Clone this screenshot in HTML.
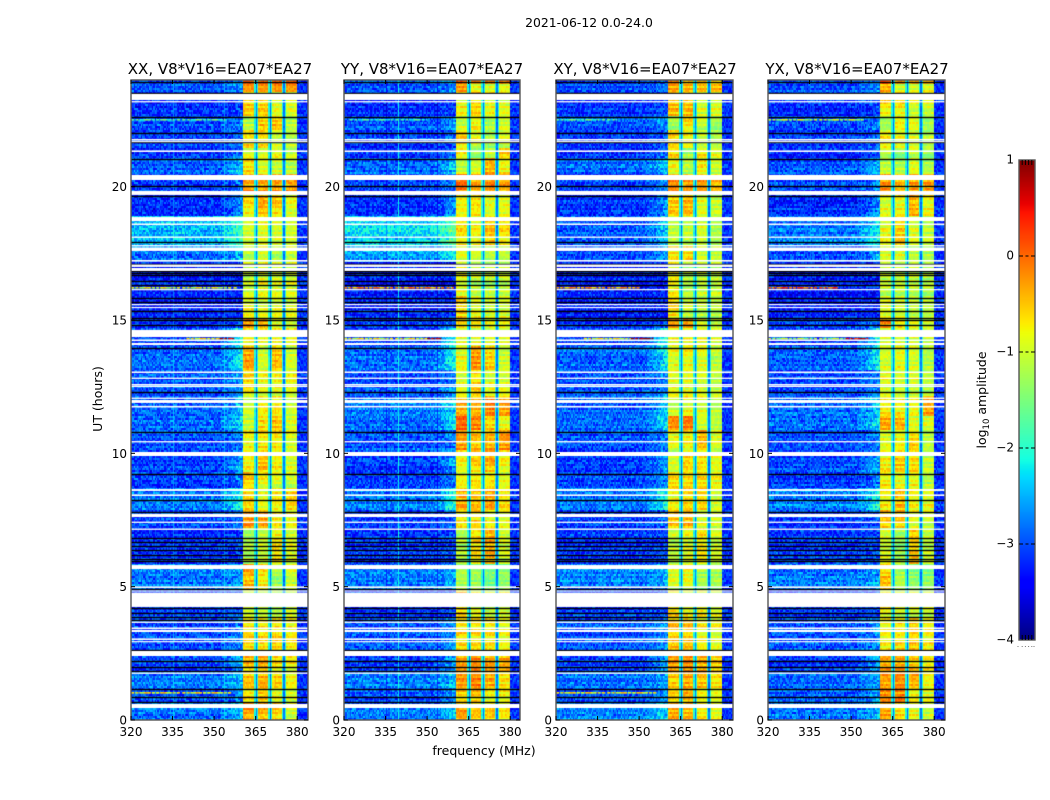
<!DOCTYPE html>
<html lang="en">
<head>
<meta charset="utf-8">
<title>2021-06-12 amplitude waterfall</title>
<style>
html,body{margin:0;padding:0;background:#fff;width:1050px;height:800px;overflow:hidden}
canvas{position:absolute;display:block}
svg{position:absolute;left:0;top:0}
text{font-family:"DejaVu Sans","Liberation Sans",sans-serif;fill:#000}
</style>
</head>
<body>
<canvas id="heat0" style="left:131px;top:80px" width="177" height="640"></canvas>
<canvas id="heat1" style="left:344px;top:80px" width="176" height="640"></canvas>
<canvas id="heat2" style="left:556px;top:80px" width="177" height="640"></canvas>
<canvas id="heat3" style="left:768px;top:80px" width="177" height="640"></canvas>
<canvas id="cbar" style="left:1019px;top:160px" width="16" height="480"></canvas>
<svg id="overlay" width="1050" height="800" viewBox="0 0 1050 800">
  <text x="589" y="27" font-size="12.4" text-anchor="middle">2021-06-12 0.0-24.0</text>
  <text x="220" y="74" font-size="15" text-anchor="middle">XX, V8*V16=EA07*EA27</text>
  <text x="432" y="74" font-size="15" text-anchor="middle">YY, V8*V16=EA07*EA27</text>
  <text x="645" y="74" font-size="15" text-anchor="middle">XY, V8*V16=EA07*EA27</text>
  <text x="857" y="74" font-size="15" text-anchor="middle">YX, V8*V16=EA07*EA27</text>
  <text x="484" y="755" font-size="12.5" text-anchor="middle">frequency (MHz)</text>
  <text transform="translate(102,399) rotate(-90)" font-size="12.5" text-anchor="middle">UT (hours)</text>
  <text transform="translate(986,400) rotate(-90)" font-size="12.5" text-anchor="middle">log<tspan font-size="8.5" dy="3">10</tspan><tspan dy="-3"> amplitude</tspan></text>
</svg>
<script>
// Axis ticks
const freqTicks = [320, 335, 350, 365, 380];
const hourTicks = [0, 5, 10, 15, 20];
const colorTicks = [1, 0, -1, -2, -3, -4];

// Layout of the four polarisation panels (x pixel origin only)
const panelLefts = [131, 344, 556, 768];

// Time segments, top hour of each (descending); each runs down to the next
const segmentTopHours = [24,23.81,23.48,22.61,22.05,21.38,21,20.44,19.65,18.86,17.74,17.1,15.83,15.04,14.63,13.95,13.05,12.08,11.33,10.8,10.05,9.23,8.63,7.8,7.16,5.81,4.8,3.75,2.59,1.76,1.13,0.6];

// log10 amplitude of the 320-360 MHz region per segment
const lowLevelsXX = [-3,-3,-3.2,-3,-3.15,-3.2,-2.9,-3.1,-3.2,-2.5,-2.8,-3.3,-3.25,-3.15,-3.1,-2.9,-3,-2.9,-2.9,-3,-3.1,-3.1,-2.8,-3.1,-3.15,-2.8,-3.15,-3,-3.1,-2.8,-3,-2.8];
const lowLevelsYY = [-3,-3,-3.2,-3,-3.1,-3.2,-2.9,-3.1,-3.2,-2.3,-2.6,-3.3,-3.25,-3.15,-3.1,-2.9,-3,-2.85,-2.85,-3,-3.1,-3.1,-2.8,-3.1,-3.15,-2.8,-3.15,-3,-3.1,-2.8,-3,-2.8];
const lowLevelsXY = [-3,-3,-3.2,-3,-3.15,-3.2,-2.9,-3.1,-3.2,-2.95,-3.1,-3.3,-3.25,-3.15,-3.1,-2.9,-3,-2.9,-2.9,-3,-3.1,-3.1,-2.8,-3.1,-3.15,-2.8,-3.15,-3,-3.1,-2.8,-3,-2.8];
const lowLevelsYX = [-3,-3,-3.2,-3.05,-3.15,-3.2,-3,-3.1,-3.2,-2.8,-3,-3.3,-3.25,-3.15,-3.1,-2.95,-3.05,-2.9,-2.9,-3,-3.1,-3.1,-2.8,-3.1,-3.15,-2.8,-3.15,-3,-3.1,-2.9,-3,-2.8];

// log10 amplitude of the four sub-bands (360-365, 365-370, 370-375, 375-380 MHz) per segment
const subLevelsXX = [[.1,.1,.1,.1],[-.3,-.3,-.3,-.3],[-.6,-.6,-1,-1],[-1.1,-.5,-.5,-1.1],[-.7,-.7,-1.1,-1.2],[-1,-1,-.9,-1.1],[-.6,-.9,-1,-1.1],[-.3,-.3,-.3,-.3],[-.7,-.4,-.6,-.9],[-1,-.9,-1,-1],[-1.1,-.9,-1.2,-1],[-1.1,-.9,-1,-1],[-.8,-.9,-.9,-.9],[-.2,-.3,-.9,-1],[-.9,-.9,-.9,-.9],[-.3,-1,-.5,-1],[-.7,-.9,-.9,-.9],[-1,-.7,-.7,-1],[-1.1,-.7,-.6,-1],[-.8,-.7,-.7,-.9],[-.8,-.5,-.8,-1],[-.6,-.8,-1,-1.1],[-.6,-.9,-.8,-.6],[-.3,-.4,-.8,-.9],[-1.2,-1,-.7,-.9],[-.4,-.7,-1.3,-1],[-1.1,-1.2,-1.3,-1.1],[-.6,-.6,-.6,-.7],[-.5,-.4,-.7,-.8],[-.5,-.4,-.6,-.8],[-.7,-.5,-.9,-1],[-.3,-.4,-.6,-1]];
const subLevelsYY = [[-.2,-.4,-.4,-.4],[-.3,-.9,-1,-.9],[-.8,-.6,-.8,-.9],[-1.1,-.8,-1.2,-1],[-.6,-.9,-1.2,-1],[-.8,-1.4,-1.1,-.6],[-1.1,-1,-.4,-.8],[-.1,-.4,-.2,-.4],[-.8,-.7,-.9,-.9],[-.7,-.8,-.5,-.7],[-.9,-1,-1.1,-1.1],[-.9,-1.1,-1.1,-1.1],[-.6,-.9,-1,-1],[-.7,-.8,-.9,-.9],[-.9,-.9,-.9,-.9],[-.9,-.3,-.6,-1.1],[-.9,-.6,-.9,-.9],[-.5,-.5,-.2,-.4],[.1,-.1,-.5,-.8],[-.3,-.5,-.4,-.3],[-.8,-.6,-.4,-.8],[-.8,-.7,-.7,-.9],[-.4,-.5,-.3,-.7],[-.7,-.6,-.8,-.9],[-1.2,-.7,-.4,-1],[-1.2,-1.3,-1.5,-1.4],[-.5,-.8,-1,-.9],[-.7,-.7,-.7,-.9],[-.3,-.2,-.3,-.4],[-.3,-.2,-.4,-.7],[-.6,-.5,-.8,-.8],[-.3,-.5,-.5,-.7]];
const subLevelsXY = [[.1,-.3,-.3,-.4],[-.3,-.4,-.4,-.4],[-.5,-.5,-1,-1],[-1.3,-.7,-1.1,-1.3],[-.6,-.8,-1.1,-1.2],[-.6,-1.3,-.8,-.9],[-.9,-1.2,-.8,-1.1],[-.2,-.3,-.3,-.5],[-.6,-.5,-1,-1.1],[-1.1,-1.1,-1,-1.2],[-.8,-.7,-1.1,-1.2],[-.8,-1.2,-1.1,-1.1],[-.6,-1,-1.1,-1.1],[-.3,-.3,-.9,-1.1],[-.9,-.9,-.9,-1],[-.9,-.8,-.9,-1.1],[-.9,-.9,-1,-1.1],[-1,-.8,-.9,-1.1],[-.2,-.1,-1,-1.1],[-.9,-.8,-.5,-1],[-1,-.6,-.7,-.9],[-.7,-.7,-.7,-.9],[-.8,-.6,-.6,-1],[-.5,-.4,-1,-1],[-1.1,-.9,-.7,-1],[-1,-.9,-1.3,-1.3],[-.7,-.9,-.8,-1],[-.5,-.5,-.8,-.9],[-.3,-.2,-.4,-.6],[-.5,-.3,-.4,-.6],[-.6,-.4,-.8,-.9],[-.4,-.5,-.8,-.9]];
const subLevelsYX = [[.1,-.3,-.4,-.4],[-.4,-1,-1,-.9],[-.7,-.7,-1,-1],[-1.3,-.8,-.9,-1.3],[-.8,-.9,-1,-1.2],[-1.1,-1.4,-1.1,-1.3],[-1.1,-1.2,-.9,-1.2],[-.3,-.5,-.4,-.4],[-.9,-.8,-.4,-.8],[-.9,-.6,-1,-1.1],[-.9,-.9,-1.1,-1.2],[-1.1,-1.1,-1.1,-1.2],[-.9,-1,-1.1,-1.1],[-.3,-.8,-1,-1.1],[-.9,-.9,-.9,-1],[-1,-.9,-1,-1.2],[-.9,-1,-1,-1.1],[-.8,-.8,-.9,-.4],[-.4,-.5,-1,-1],[-.9,-.8,-.6,-1.1],[-.8,-.6,-.7,-1.1],[-.7,-.8,-.8,-1.1],[-.8,-.5,-.8,-.9],[-.5,-.5,-.9,-1],[-1,-1.3,-.6,-1.1],[-.5,-1.2,-1.4,-1.4],[-.8,-1,-1,-1],[-.8,-.7,-.6,-.8],[-.3,-.3,-.5,-.7],[-.3,-.2,-.4,-.8],[-.3,-.2,-.9,-1],[-.3,-.6,-.8,-1]];

// Brightening towards the band edge per segment, and its spectral profile (320..359 MHz)
const edgeGlow = [.3,.3,.1,.3,.2,.3,.5,.3,.5,.6,.4,0,0,.2,1,.7,.3,.5,.6,.2,.5,.3,.7,.2,.1,.2,.1,.3,.5,.3,.3,.4];
const edgeProfile = [0,0,0,0,0,0,0,0,0,0,0,0,0,0,0,0,0,0,0,0,0,0,0,0,0,0,0,0,0,0,0,0,.1,.2,.3,.4,.55,.7,.85,1];

// Fixed spectral features
const bandStartMHz = 360.4;
const bandEndMHz = 380;
const subBandEdges = [365.1, 370.2, 375.2];
const outOfBandLevel = -3.15;
const gapCoreLevel = -2.8;
const gapEdgeLevel = -2.05;
const spurFreqsYY = [339.7];
const spurLevel = -2.2;

// Flagged (blank) time ranges [startHour, endHour]
const whiteBands = [[23.48,23.25],[23.21,23.16],[21.79,21.73],[21.71,21.68],[21.36,21.3],[20.44,20.25],[19.84,19.69],[18.86,18.71],[18.62,18.56],[18.13,18.08],[17.81,17.76],[17.72,17.59],[17.25,17.19],[17.08,16.99],[16.95,16.84],[16.16,16.13],[15.6,15.56],[15.49,15.45],[14.63,14.36],[14.27,14.21],[14.14,14.06],[13.07,13.01],[12.84,12.79],[12.6,12.54],[12.53,12.49],[12.09,12.04],[12,11.89],[11.78,11.72],[10.46,10.41],[10.05,9.9],[8.66,8.59],[8.46,8.4],[7.73,7.61],[7.44,7.39],[7.18,7.13],[5.81,5.66],[5.01,4.95],[4.86,4.82],[4.78,4.24],[3.69,3.64],[3.47,3.41],[3.38,3.3],[3.06,3],[2.96,2.93],[2.59,2.4],[1.78,1.73],[0.6,0.45]];

// Zero-valued integrations that plot as black lines (hours)
const blackLines = [23.93,23.51,22.61,22.03,21.66,21.04,20.03,19.65,17.93,17.1,16.84,16.76,16.67,16.46,16.31,15.81,15.66,15.34,15.08,15,14.81,13.95,12.3,10.8,9.23,8.25,7.8,6.83,6.66,6.51,6.36,6.19,6.03,5.97,4.93,4.2,4.01,3.86,3.75,2.63,2.23,1.99,1.82,1.16,.88,.69];

// Narrow-band interference lines per panel: hour, start MHz, end MHz, level
const spikesXX = [[1.05,320,356,-1],[16.24,320,358,-1.2],[14.33,340,352,-1],[14.33,352,357,.6],[22.54,320,355,-2]];
const spikesYY = [[16.24,320,360,-.5],[14.33,320,350,-1.1],[14.33,350,355,.8],[22.54,322,350,-2.2]];
const spikesXY = [[1.05,320,357,-1],[16.24,320,350,-.6],[14.33,330,347,-1.1],[14.33,347,355,.9],[22.54,320,342,-2]];
const spikesYX = [[16.24,320,345,-.2],[14.33,320,348,-1.5],[14.33,348,356,.3],[22.54,320,355,-1.4]];

// Speckle tables (log10 amplitude perturbations read from the noise spread)
const cellSpeckle = [.31,-.22,.08,-.35,.17,-.06,.4,-.28,.02,.23,-.41,.12,-.15,.34,-.09,.27,-.33,.05,-.19,.38,-.12,.14,-.26,.29,-.03,.2,-.37,.1,.36,-.17,-.31,.07,.25,-.08,.16,-.24,.44];
const rowSpeckle = [.04,-.1,.12,-.03,.08,-.14,.02,.1,-.06,.16,-.12,.03,-.05,.11,-.09,.06,-.02,.13,-.15,.07,-.04,.09,-.11];

const pxPerMHz = 2.77;
const pxPerHour = 26.667;
const topHour = 24;
const maxFreq = 384;
const chanWidth = 0.5;
const rowHeightHours = 0.075;
const colorMin = -4;
const colorMax = 1;

const xLocal = f => (f - 320) * pxPerMHz;
const xAxis = (p, f) => panelLefts[p] + xLocal(f);
const yLocal = h => (topHour - h) * pxPerHour;
const yAxis = h => 80 + yLocal(h);
const yColor = v => 160 + (colorMax - v) / (colorMax - colorMin) * 480;

function lerpStops(stops, t){
  for (let i = 1; i < stops.length; i++){
    if (t <= stops[i][0]){
      const a = stops[i-1], b = stops[i];
      return a[1] + (b[1]-a[1]) * (t-a[0]) / (b[0]-a[0]);
    }
  }
  return stops[stops.length-1][1];
}
const jetR = [[0,0],[.35,0],[.66,1],[.89,1],[1,.5]];
const jetG = [[0,0],[.125,0],[.375,1],[.64,1],[.91,0],[1,0]];
const jetB = [[0,.5],[.11,1],[.34,1],[.65,0],[1,0]];
function colorOf(v){
  const t = Math.max(0, Math.min(1, (v - colorMin) / (colorMax - colorMin)));
  return 'rgb(' + Math.round(255*lerpStops(jetR,t)) + ',' + Math.round(255*lerpStops(jetG,t)) + ',' + Math.round(255*lerpStops(jetB,t)) + ')';
}
function segmentAt(h){
  let s = 0;
  for (let i = 0; i < segmentTopHours.length; i++){
    if (h <= segmentTopHours[i]) s = i;
  }
  return s;
}
const lowByPanel = [lowLevelsXX, lowLevelsYY, lowLevelsXY, lowLevelsYX];
const subByPanel = [subLevelsXX, subLevelsYY, subLevelsXY, subLevelsYX];
const spikesByPanel = [spikesXX, spikesYY, spikesXY, spikesYX];
const spursByPanel = [[], spurFreqsYY, [], []];

function cellValue(p, h, f, c, r){
  const s = segmentAt(h);
  const n = cellSpeckle[(c*c*3 + r*7 + c*r + p*11) % cellSpeckle.length];
  const rn = rowSpeckle[(r*5 + p) % rowSpeckle.length];
  if (f < bandStartMHz){
    for (const sf of spursByPanel[p]){
      if (Math.abs(f + chanWidth/2 - sf) <= chanWidth/2) return spurLevel + n*0.3;
    }
    const k = Math.min(39, Math.max(0, Math.floor(f - 320)));
    return lowByPanel[p][s] + edgeGlow[s] * edgeProfile[k] + n + rn;
  }
  if (f >= bandEndMHz) return outOfBandLevel + n*0.8 + rn*0.5;
  for (const g of subBandEdges){
    const d = Math.abs(f + chanWidth/2 - g);
    if (d < 0.3) return gapCoreLevel + n*0.3;
    if (d < 0.75) return gapEdgeLevel + n*0.4;
  }
  let k = 0;
  for (const g of subBandEdges){ if (f > g) k++; }
  return subByPanel[p][s][k] + n*0.45 + rn*1.6;
}

function drawPanel(p){
  const ctx = document.getElementById('heat' + p).getContext('2d');
  const W = ctx.canvas.width, H = ctx.canvas.height;
  ctx.fillStyle = '#fff';
  ctx.fillRect(0, 0, W, H);
  const nCols = Math.round((maxFreq - 320) / chanWidth);
  const nRows = Math.round(topHour / rowHeightHours);
  for (let r = 0; r < nRows; r++){
    const h0 = r * rowHeightHours, h1 = h0 + rowHeightHours;
    const y0 = Math.round(yLocal(h1)), y1 = Math.round(yLocal(h0));
    for (let c = 0; c < nCols; c++){
      const f = 320 + c * chanWidth;
      const x0 = Math.round(xLocal(f)), x1 = Math.round(xLocal(f + chanWidth));
      ctx.fillStyle = colorOf(cellValue(p, h0, f, c, r));
      ctx.fillRect(x0, y0, x1 - x0, y1 - y0);
    }
  }
  for (const sp of spikesByPanel[p]){
    const y = yLocal(sp[0]);
    let c = 0;
    for (let f = sp[1]; f < sp[2]; f += chanWidth){
      const nn = cellSpeckle[(c*c + 3*c) % cellSpeckle.length];
      if (nn > -0.2){
        ctx.fillStyle = colorOf(sp[3] + nn * 1.6);
        ctx.fillRect(xLocal(f), y, pxPerMHz * chanWidth + 0.5, 1.6);
      }
      c++;
    }
  }
  ctx.fillStyle = '#000';
  for (const h of blackLines){
    ctx.fillRect(0, Math.round(yLocal(h)) - 0.2, W, 1.4);
  }
  ctx.fillStyle = '#fff';
  for (const b of whiteBands){
    const y0 = yLocal(b[0]), y1 = yLocal(b[1]);
    ctx.fillRect(0, y0, W, Math.max(1.2, y1 - y0));
  }
}
for (let p = 0; p < panelLefts.length; p++) drawPanel(p);

// Colorbar gradient
(function(){
  const ctx = document.getElementById('cbar').getContext('2d');
  for (let y = 0; y < 480; y++){
    const v = colorMax - (y + 0.5) / 480 * (colorMax - colorMin);
    ctx.fillStyle = colorOf(v);
    ctx.fillRect(0, y, 16, 1);
  }
})();

const NS = 'http://www.w3.org/2000/svg';
const svg = document.getElementById('overlay');
function addLine(x1, y1, x2, y2, stroke, width, name){
  const l = document.createElementNS(NS, 'line');
  l.setAttribute('x1', x1);
  l.setAttribute('y1', y1);
  l.setAttribute('x2', x2);
  l.setAttribute('y2', y2);
  l.setAttribute('stroke', stroke);
  l.setAttribute('stroke-width', width);
  
  
  svg.appendChild(l);
}
function addText(x, y, str, anchor, name){
  const t = document.createElementNS(NS, 'text');
  t.setAttribute('x', x);
  t.setAttribute('y', y);
  t.setAttribute('font-size', '12');
  t.setAttribute('text-anchor', anchor);
  
  
  t.textContent = str;
  svg.appendChild(t);
}
function addFrame(x, y, w, h, name){
  const r = document.createElementNS(NS, 'rect');
  r.setAttribute('x', x);
  r.setAttribute('y', y);
  r.setAttribute('width', w);
  r.setAttribute('height', h);
  r.setAttribute('fill', 'none');
  r.setAttribute('stroke', '#555');
  r.setAttribute('stroke-width', '1.4');
  
  
  svg.appendChild(r);
}
const panelWidths = [177, 176, 177, 177];
panelLefts.forEach(function(left, p){
  addFrame(left, 80, panelWidths[p], 640, 'panel-frame');
  freqTicks.forEach(function(f){
    const x = xAxis(p, f);
    addLine(x, 720, x, 716, '#000', 1, 'x-tick');
    addLine(x, 80, x, 84, '#000', 1, 'x-tick-top');
    addText(x, 736, String(f), 'middle', 'x-tick-label');
  });
  hourTicks.forEach(function(h){
    const y = yAxis(h);
    addLine(left, y, left + 4, y, '#000', 1, 'y-tick');
    addLine(left + panelWidths[p], y, left + panelWidths[p] - 4, y, '#000', 1, 'y-tick-right');
    addText(left - 4, y + 4.5, String(h), 'end', 'y-tick-label');
  });
});
addFrame(1019, 160, 16, 480, 'colorbar-frame');
colorTicks.forEach(function(v){
  const y = yColor(v);
  if (v !== colorMax && v !== colorMin){
    addLine(1019, y, 1023, y, '#000', 1, 'colorbar-tick');
    addLine(1025.5, y, 1028.5, y, '#000', 1, 'colorbar-tick-mid');
    addLine(1031, y, 1035, y, '#000', 1, 'colorbar-tick');
  }
  addText(1014, y + 3.5, String(v).replace('-', '\u2212'), 'end', 'colorbar-tick-label');
});
const colorbarMinorFractions = [0.2, 0.4, 0.6, 0.8];
colorbarMinorFractions.forEach(function(fr){
  const x = 1019 + fr * 16;
  addLine(x, 160, x, 165, '#000', 1, 'colorbar-minor-tick');
  addLine(x, 640, x, 635, '#000', 1, 'colorbar-minor-tick');
  addLine(x, 646, x, 647, '#777', 1, 'colorbar-minor-label-dot');
});
addLine(1018, 646, 1018, 647, '#777', 1, 'colorbar-minor-label-dot');
addLine(1034, 646, 1034, 647, '#777', 1, 'colorbar-minor-label-dot');
</script>
</body>
</html>
